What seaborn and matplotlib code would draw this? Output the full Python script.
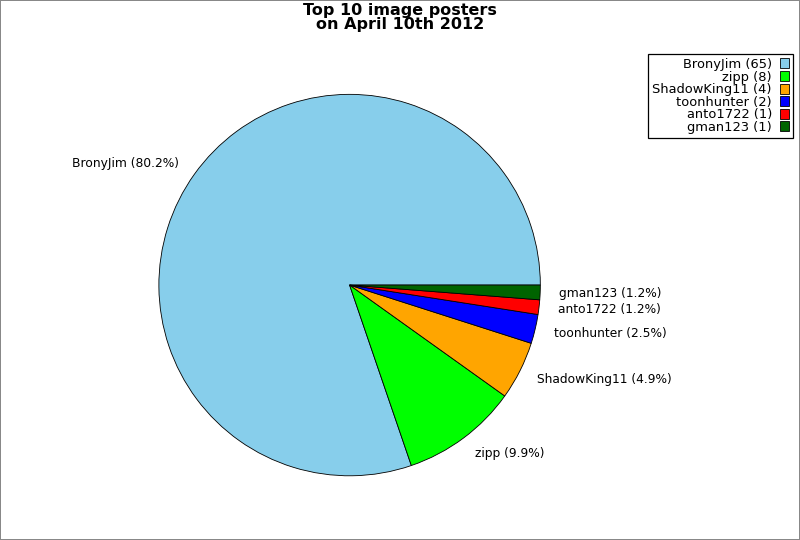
import matplotlib
matplotlib.use("Agg")
import matplotlib.pyplot as plt
import seaborn as sns

posters = ["BronyJim", "zipp", "ShadowKing11", "toonhunter", "anto1722", "gman123"]
counts = [65, 8, 4, 2, 1, 1]
slice_colors = ["skyblue", "lime", "orange", "blue", "red", "darkgreen"]

sns.set_style("white")
plt.rcParams['font.family'] = ['DejaVu Sans']
plt.rcParams['text.color'] = 'black'

total = sum(counts)
pie_labels = [f"{p} ({c / total * 100:.1f}%)" for p, c in zip(posters, counts)]
legend_labels = [f"{p} ({c})" for p, c in zip(posters, counts)]

fig = plt.figure(figsize=(8, 5.4), dpi=100)
fig.patch.set_edgecolor("#888888")
fig.patch.set_linewidth(1.2)
ax = fig.add_axes([0.139, 0.0306, 0.596, 0.883])

wedges, texts = ax.pie(counts, labels=pie_labels, colors=sns.color_palette(slice_colors),
                       startangle=0, counterclock=True, labeldistance=1.1,
                       wedgeprops={"edgecolor": "black", "linewidth": 0.6},
                       textprops={"fontsize": 8.8, "color": "black"})
ax.set_aspect("equal")

fig.suptitle("Top 10 image posters\non April 10th 2012", fontsize=11.5, color="black",
             fontweight="bold", y=0.995, linespacing=0.95)

leg = fig.legend(wedges, legend_labels, loc="upper right", bbox_to_anchor=(0.991, 0.9),
                 borderaxespad=0, markerfirst=False, fontsize=9.4, labelspacing=-0.03,
                 handlelength=0.7, handleheight=0.8, handletextpad=0.6, borderpad=0.3,
                 fancybox=False, framealpha=1, edgecolor="black")
leg.get_frame().set_linewidth(0.9)
for t in leg.get_texts():
    t.set_ha("right")
    t.set_color("black")

fig.savefig("out.png", dpi=100)
